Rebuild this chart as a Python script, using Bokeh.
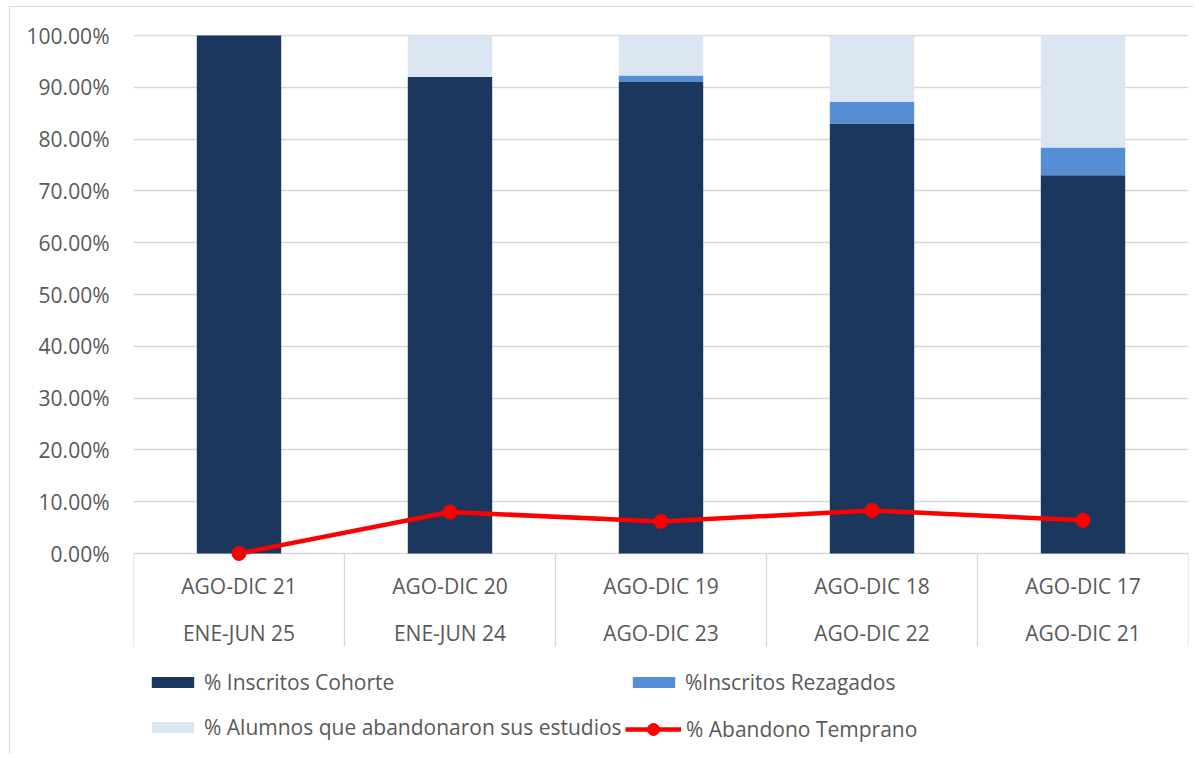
from bokeh.plotting import figure
from bokeh.models import (ColumnDataSource, Range1d, FixedTicker, PrintfTickFormatter,
                          Legend, LegendItem)
from bokeh.core.properties import value
from bokeh.embed import file_html
from bokeh.resources import INLINE

# ---- data ----
periodo_ingreso = ["AGO-DIC 21", "AGO-DIC 20", "AGO-DIC 19", "AGO-DIC 18", "AGO-DIC 17"]
periodo_corte = ["ENE-JUN 25", "ENE-JUN 24", "AGO-DIC 23", "AGO-DIC 22", "AGO-DIC 21"]
inscritos_cohorte = [100.0, 92.0, 91.0, 83.0, 73.0]
inscritos_rezagados = [0.0, 0.0, 1.3, 4.2, 5.4]
alumnos_abandonaron = [0.0, 8.0, 7.7, 12.8, 21.6]
abandono_temprano = [0.0, 8.0, 6.2, 8.3, 6.4]

series_names = ["% Inscritos Cohorte", "%Inscritos Rezagados",
                "% Alumnos que abandonaron sus estudios", "% Abandono Temprano"]

# ---- styling constants ----
C_COH = "#1B375E"
C_REZ = "#558ED5"
C_ABA = "#DCE6F2"
C_LINE = "#FF0000"
C_TEXT = "#595959"
C_GRID = "#D9D9D9"
FONT = "Open Sans"
FS = "21px"

# content origin of the canvas on the page (page px)
OX, OY = 11, 8

n = len(periodo_ingreso)
xs = [i + 0.5 for i in range(n)]

PX_PER_UNIT = 5.18           # 10% == 51.8 px
frame_left_px = 134
frame_right_px = 1189
frame_top_px = 35
zero_px = 554
frame_bottom_px = 750
fig_right_px = 1195
fig_bottom_px = 756

y_end = 100 + (36 - frame_top_px) / PX_PER_UNIT
y_start = -(frame_bottom_px - zero_px) / PX_PER_UNIT
axis_box_bottom = -(647 - zero_px) / PX_PER_UNIT
row1_y = -(586 - zero_px) / PX_PER_UNIT
row2_y = -(633 - zero_px) / PX_PER_UNIT

src = ColumnDataSource(dict(
    x=xs,
    coh=inscritos_cohorte,
    rez=inscritos_rezagados,
    aba=alumnos_abandonaron,
    tem=abandono_temprano,
    top_lab=periodo_ingreso,
    bot_lab=periodo_corte,
    y1=[row1_y] * n,
    y2=[row2_y] * n,
))

p = figure(width=fig_right_px - OX, height=fig_bottom_px - OY,
           x_range=Range1d(0, n), y_range=Range1d(y_start, y_end),
           output_backend="svg", toolbar_location=None,
           x_axis_location=None,
           min_border_left=frame_left_px - OX, min_border_right=fig_right_px - frame_right_px,
           min_border_top=frame_top_px - OY, min_border_bottom=fig_bottom_px - frame_bottom_px)
p.outline_line_color = None
p.background_fill_color = "white"
p.border_fill_color = "white"
p.styles = {"border-left": "1px solid #D9D9D9", "border-top": "1px solid #D9D9D9",
            "margin-left": "9px", "margin-top": "6px"}

p.xgrid.visible = False
p.yaxis.ticker = FixedTicker(ticks=list(range(0, 101, 10)))
p.yaxis.formatter = PrintfTickFormatter(format="%.2f%%")
p.yaxis.axis_line_color = None
p.yaxis.major_tick_line_color = None
p.yaxis.minor_tick_line_color = None
p.yaxis.major_label_text_font = FONT
p.yaxis.major_label_text_font_size = FS
p.yaxis.major_label_text_color = C_TEXT
p.yaxis.major_label_standoff = 18
p.ygrid.grid_line_color = C_GRID
p.ygrid.grid_line_width = 1.3

# stacked bars
bars = p.vbar_stack(["coh", "rez", "aba"], x="x", width=0.4, source=src,
                    color=[C_COH, C_REZ, C_ABA], line_color=None)

# category axis box: separators
bounds = list(range(n + 1))
p.segment(x0=bounds, y0=[0] * (n + 1), x1=bounds, y1=[axis_box_bottom] * (n + 1),
          line_color=C_GRID, line_width=1.3)
p.text(x="x", y="y1", text="top_lab", source=src, text_align="center",
       text_baseline="middle", text_font=value(FONT), text_font_size=FS,
       text_color=C_TEXT)
p.text(x="x", y="y2", text="bot_lab", source=src, text_align="center",
       text_baseline="middle", text_font=value(FONT), text_font_size=FS,
       text_color=C_TEXT)

# line
ln = p.line(x="x", y="tem", source=src, line_color=C_LINE, line_width=4.5)
mk = p.scatter(x="x", y="tem", source=src, size=14, marker="circle",
               fill_color=C_LINE, line_color=C_LINE)


def make_legend(item, loc, gw, gh):
    return Legend(items=[item], location=loc, orientation="vertical",
                  border_line_color=None, background_fill_alpha=0,
                  padding=0, margin=0, spacing=0,
                  glyph_width=gw, glyph_height=gh, label_standoff=5,
                  label_text_font=FONT, label_text_font_size=FS,
                  label_text_color=C_TEXT)


fl = frame_left_px
fb = frame_bottom_px
legs = [
    make_legend(LegendItem(label=series_names[0], renderers=[bars[0]]), (147 - fl, fb - 697), 53, 14),
    make_legend(LegendItem(label=series_names[1], renderers=[bars[1]]), (628 - fl, fb - 697), 53, 14),
    make_legend(LegendItem(label=series_names[2], renderers=[bars[2]]), (147 - fl, fb - 742), 53, 14),
    make_legend(LegendItem(label=series_names[3], renderers=[ln, mk]), (626 - fl, fb - 745), 56, 30),
]
for lg in legs:
    p.add_layout(lg)

open("out.html", "w").write(file_html(p, INLINE))
